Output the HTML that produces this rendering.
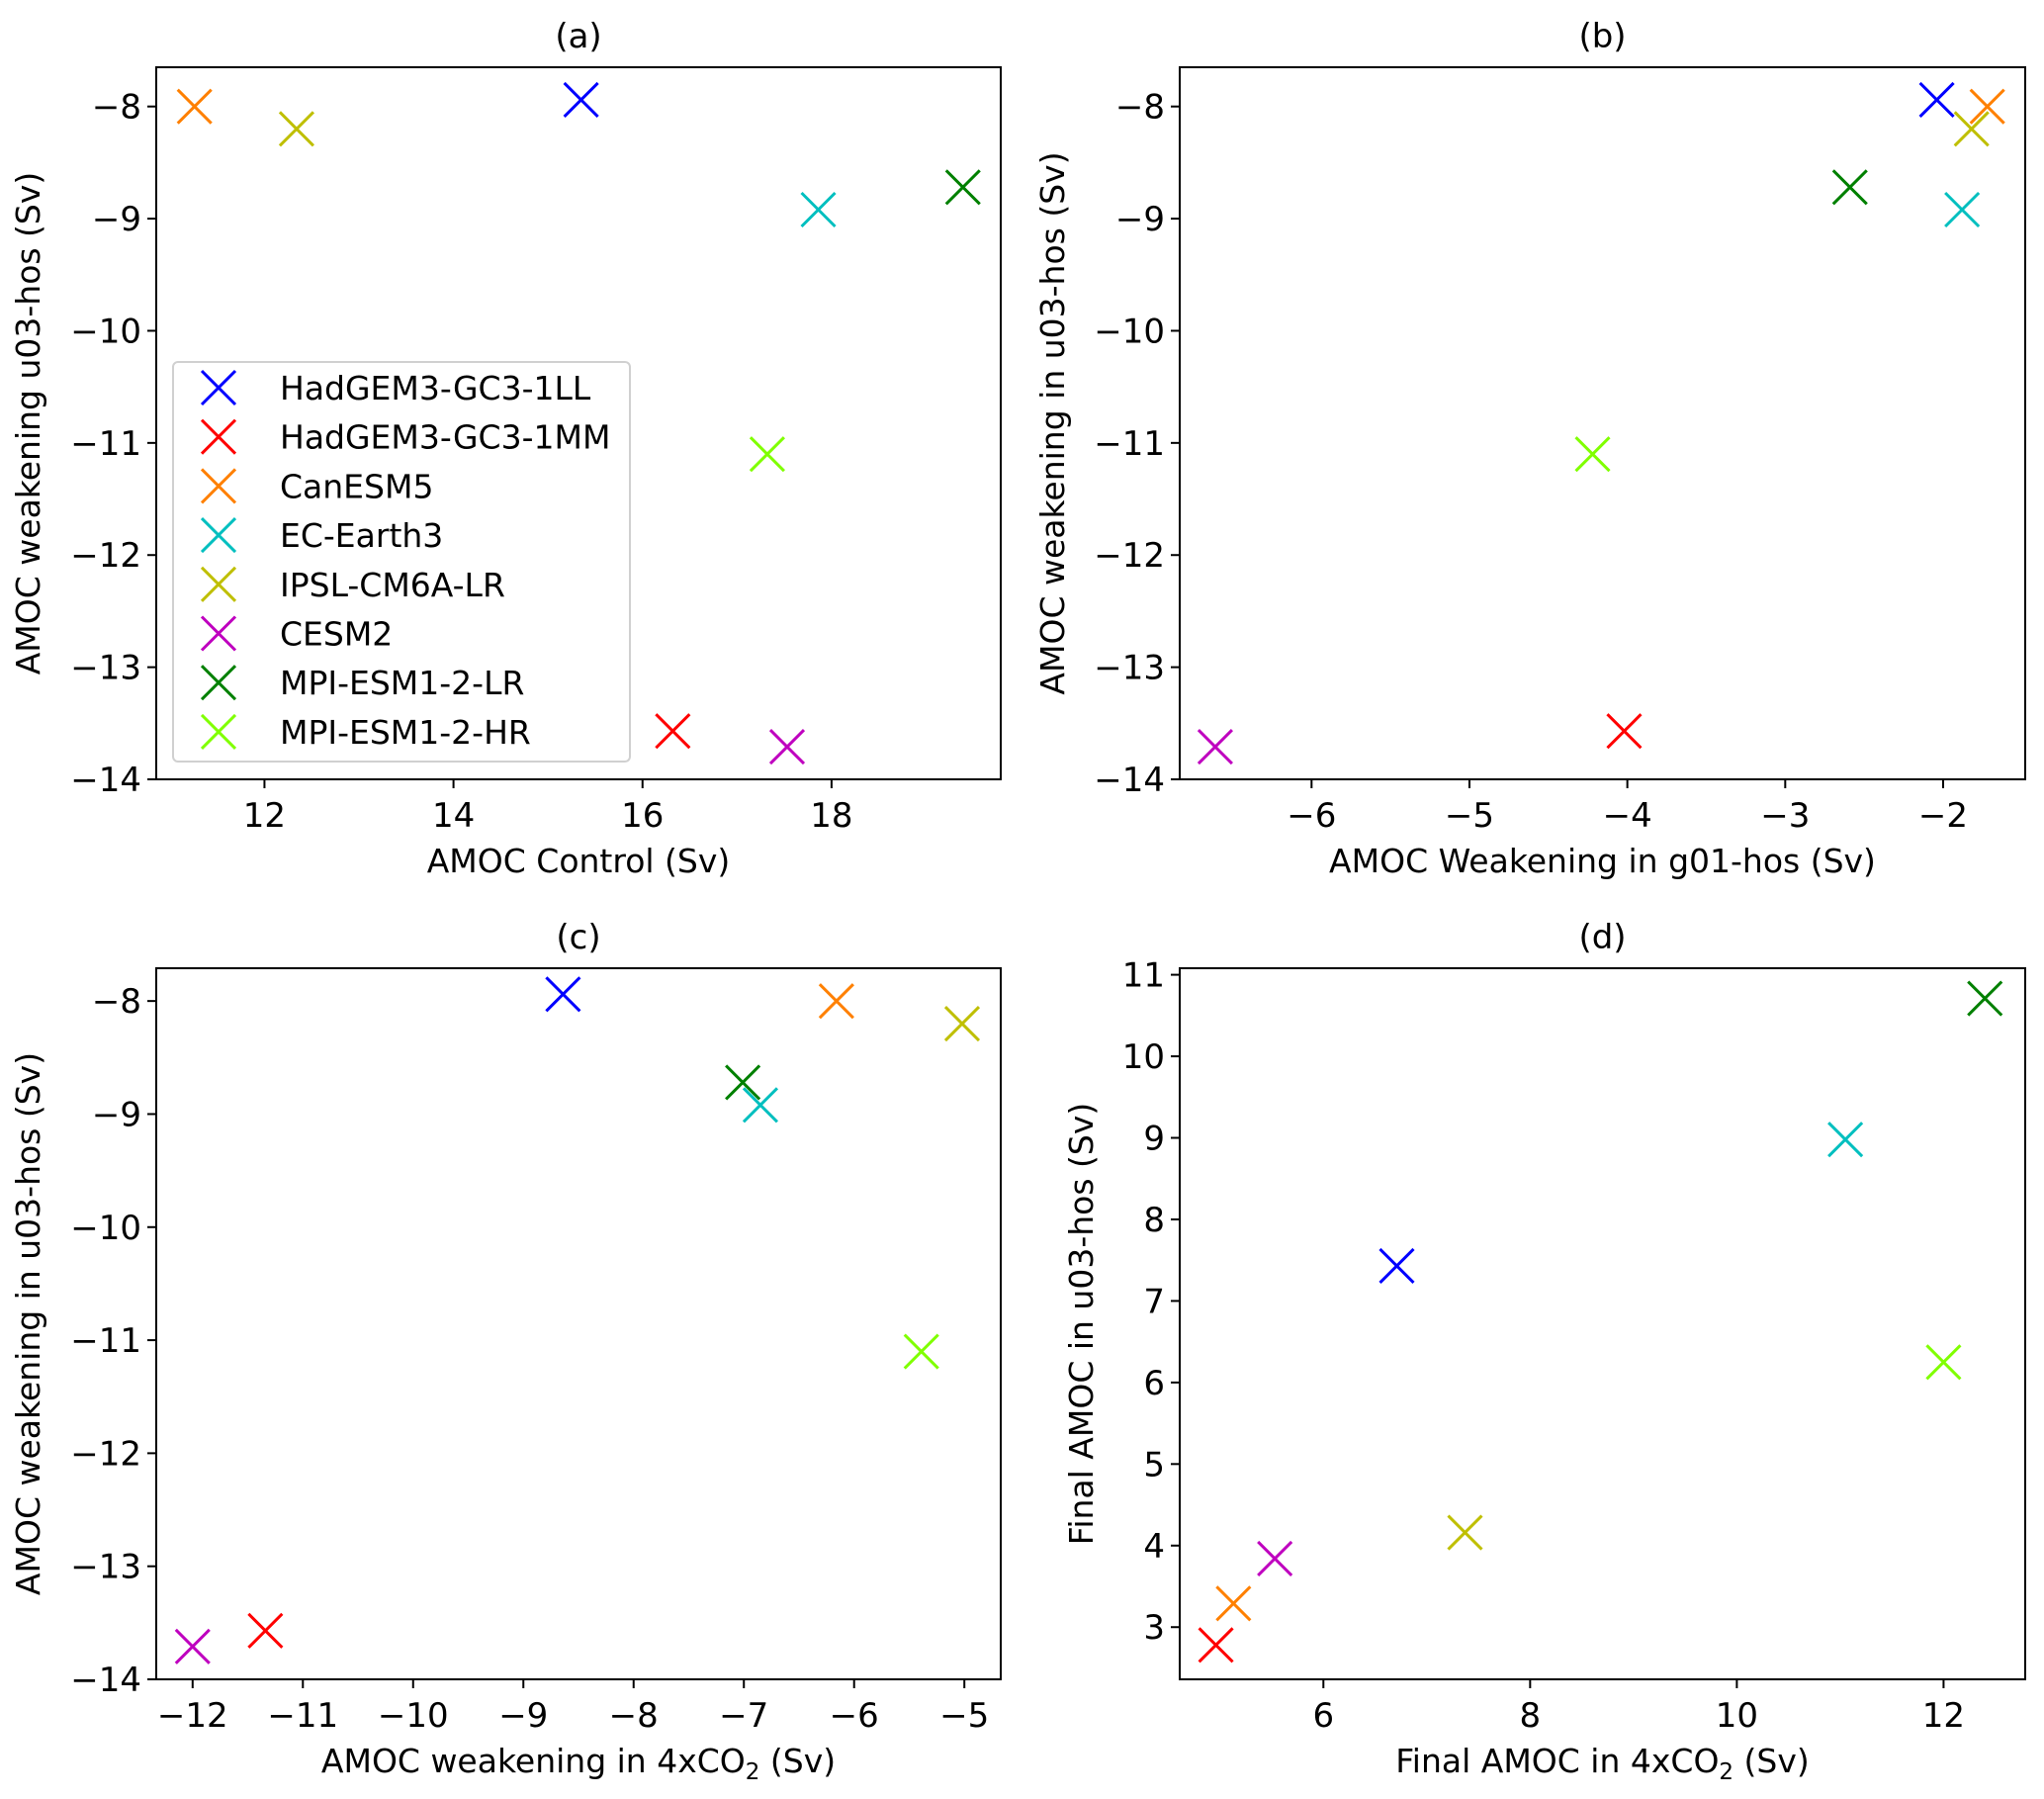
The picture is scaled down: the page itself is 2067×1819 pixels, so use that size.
<!DOCTYPE html>
<html><head><meta charset="utf-8"><style>
html,body{margin:0;padding:0;background:#fff;}
svg{display:block;font-family:"DejaVu Sans","Liberation Sans",sans-serif;}
</style></head><body>
<svg id="fig" width="2067" height="1819" viewBox="0 0 2067 1819" xmlns="http://www.w3.org/2000/svg"></svg>
<script>
const models = ["HadGEM3-GC3-1LL","HadGEM3-GC3-1MM","CanESM5","EC-Earth3","IPSL-CM6A-LR","CESM2","MPI-ESM1-2-LR","MPI-ESM1-2-HR"];
const colors = ["#0000ff","#ff0000","#ff8000","#00bfbf","#bfbf00","#bf00bf","#008000","#80ff00"];
const u03Weak = [-7.94,-13.57,-8.0,-8.92,-8.2,-13.71,-8.72,-11.1];
const amocControl = [15.35,16.32,11.26,17.86,12.34,17.53,19.39,17.32];
const g01Weak = [-2.04,-4.02,-1.72,-1.88,-1.82,-6.61,-2.59,-4.22];
const co2Weak = [-8.64,-11.34,-6.16,-6.85,-5.02,-12.0,-7.01,-5.39];
const finalCo2 = [6.71,4.96,5.13,11.05,7.37,5.53,12.4,12.0];
const finalU03 = [7.43,2.78,3.29,8.98,4.16,3.84,10.71,6.25];
const ticksA_x = [12,14,16,18];
const ticksWeak_y = [-8,-9,-10,-11,-12,-13,-14];
const ticksB_x = [-6,-5,-4,-3,-2];
const ticksC_x = [-12,-11,-10,-9,-8,-7,-6,-5];
const ticksD_x = [6,8,10,12];
const ticksD_y = [3,4,5,6,7,8,9,10,11];

const NS="http://www.w3.org/2000/svg";
const svg=document.getElementById('fig');
function mk(tag,attrs,parent){const e=document.createElementNS(NS,tag);for(const k in attrs)e.setAttribute(k,attrs[k]);(parent||svg).appendChild(e);return e;}

const panels=[
 {id:'a',title:'(a)',L:158,R:1012,T:68,B:788,xr:[10.855,19.79],yr:[-14,-7.65],xs:amocControl,ys:u03Weak,xt:ticksA_x,yt:ticksWeak_y,xl:'AMOC Control (Sv)',yl:'AMOC weakening u03-hos (Sv)',ylo:118,legend:true},
 {id:'b',title:'(b)',L:1193,R:2048,T:68,B:788,xr:[-6.835,-1.48],yr:[-14,-7.65],xs:g01Weak,ys:u03Weak,xt:ticksB_x,yt:ticksWeak_y,xl:'AMOC Weakening in g01-hos (Sv)',yl:'AMOC weakening in u03-hos (Sv)',ylo:117},
 {id:'c',title:'(c)',L:158,R:1012,T:979,B:1698,xr:[-12.33,-4.67],yr:[-14,-7.71],xs:co2Weak,ys:u03Weak,xt:ticksC_x,yt:ticksWeak_y,xl:'co2a',yl:'AMOC weakening in u03-hos (Sv)',ylo:118},
 {id:'d',title:'(d)',L:1193,R:2048,T:979,B:1698,xr:[4.61,12.79],yr:[2.36,11.08],xs:finalCo2,ys:finalU03,xt:ticksD_x,yt:ticksD_y,xl:'co2d',yl:'Final AMOC in u03-hos (Sv)',ylo:88}
];

function drawX(g,cx,cy,col,name){
  const s=17;
  const p=mk('path',{d:`M${cx-s},${cy-s}L${cx+s},${cy+s}M${cx-s},${cy+s}L${cx+s},${cy-s}`,stroke:col,'stroke-width':3,fill:'none'},g);
  
  
  return p;
}

panels.forEach(P=>{
  const g=mk('g',{});
  
  
  const sx=v=>P.L+(v-P.xr[0])/(P.xr[1]-P.xr[0])*(P.R-P.L);
  const sy=v=>P.B-(v-P.yr[0])/(P.yr[1]-P.yr[0])*(P.B-P.T);
  const t=mk('text',{x:(P.L+P.R)/2,y:P.T-20,'font-size':34,'text-anchor':'middle',fill:'#000'},g);
  t.textContent=P.title;
  
  
  P.xt.forEach(v=>{
    const x=sx(v);
    mk('line',{x1:x,x2:x,y1:P.B,y2:P.B+9,stroke:'#000','stroke-width':2},g);
    const tx=mk('text',{x:x,y:P.B+48,'font-size':34,'text-anchor':'middle',fill:'#000'},g);
    tx.textContent=v<0?'\u2212'+Math.abs(v):String(v);
    
    
  });
  P.yt.forEach(v=>{
    const y=sy(v);
    mk('line',{x1:P.L-9,x2:P.L,y1:y,y2:y,stroke:'#000','stroke-width':2},g);
    const ty=mk('text',{x:P.L-15,y:y+12,'font-size':34,'text-anchor':'end',fill:'#000'},g);
    ty.textContent=v<0?'\u2212'+Math.abs(v):String(v);
    
    
  });
  const xl=mk('text',{x:(P.L+P.R)/2,y:P.B+94,'font-size':33,'text-anchor':'middle',fill:'#000'},g);
  if(P.xl==='co2a'||P.xl==='co2d'){
    xl.appendChild(document.createTextNode(P.xl==='co2a'?'AMOC  weakening in 4xCO':'Final AMOC in 4xCO'));
    const sub=mk('tspan',{'font-size':23,dy:7},xl);sub.textContent='2';
    const rest=mk('tspan',{dy:-7},xl);rest.textContent='  (Sv)';
  } else xl.textContent=P.xl;
  
  
  const yx=P.L-P.ylo, yc=(P.T+P.B)/2;
  const yl=mk('text',{x:yx,y:yc,'font-size':33,'text-anchor':'middle',fill:'#000',transform:`rotate(-90 ${yx} ${yc})`},g);
  yl.textContent=P.yl;
  
  
  P.xs.forEach((v,i)=>{drawX(g,sx(v),sy(P.ys[i]),colors[i],'point-'+models[i].toLowerCase());});
  const fr=mk('rect',{x:P.L,y:P.T,width:P.R-P.L,height:P.B-P.T,fill:'none',stroke:'#000','stroke-width':2},g);
  
  
  if(P.legend){
    const lg=mk('g',{},g);
    
    
    mk('rect',{x:175,y:366,width:462,height:404,rx:5,fill:'#fff','fill-opacity':0.8,stroke:'#d0d0d0','stroke-width':2},lg);
    models.forEach((m,i)=>{
      const y=392+i*49.7;
      const e=mk('g',{},lg);
      
      
      drawX(e,221,y,colors[i],'legend-marker');
      const lt=mk('text',{x:283,y:y+12,'font-size':33,fill:'#000'},e);
      lt.textContent=m;
    });
  }
});
</script>
</body></html>
